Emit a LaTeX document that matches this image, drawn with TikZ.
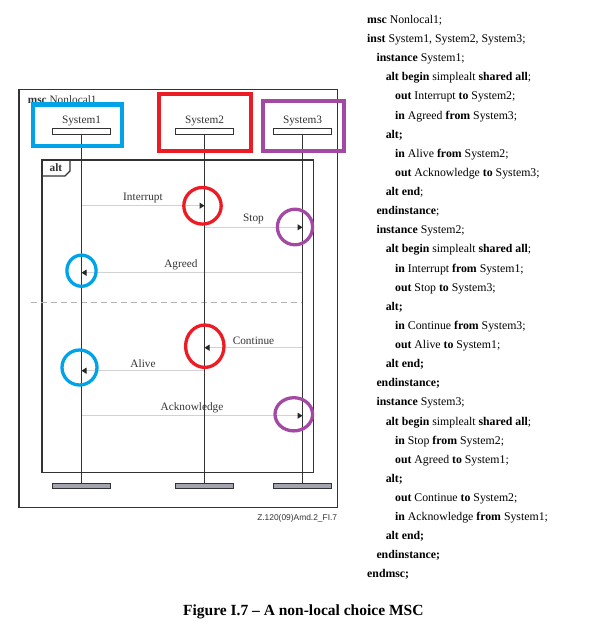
\documentclass[tikz,border=0pt]{standalone}
\usepackage{fontspec}
\setmainfont{Liberation Serif}
\newfontfamily\notefont{Liberation Sans}
\usetikzlibrary{arrows.meta,positioning}

\definecolor{hlblue}{HTML}{00A2E8}
\definecolor{hlred}{HTML}{ED1C24}
\definecolor{hlpurple}{HTML}{A349A4}
\definecolor{msggray}{HTML}{D2D2D2}
\definecolor{ink}{HTML}{333333}
\definecolor{footgray}{HTML}{A2A5B0}

\tikzset{
	head/.style={draw=ink,fill=white,line width=1pt,minimum width=58.6pt,minimum height=5.3pt,inner sep=0pt},
	foot/.style={head,fill=footgray},
	insttext/.style={font=\fontsize{11.3}{13}\selectfont,text=ink,inner sep=0pt},
	life/.style={draw=ink,line width=1.1pt},
	frame/.style={draw=ink,line width=1.1pt},
	msg/.style={draw=msggray,line width=1pt,-{Triangle[length=5pt,width=6pt,color=black!85]}},
	lbl/.style={font=\fontsize{11.3}{13}\selectfont,text=ink,inner sep=1pt,above=1.7pt},
	hlbox/.style={line width=4.2pt},
	ring/.style={line width=3.3pt},
	codeline/.style={anchor=base west,inner sep=0pt,font=\fontsize{11.8}{14}\selectfont}
}

\begin{document}
\begin{tikzpicture}[x=1pt,y=-1pt]
	\useasboundingbox (0,0) rectangle (611,644);

	\draw[frame] (19,89.3) rectangle (337.3,507.3);
	\node[insttext,anchor=base west] (mscname) at (27.7,103.5) {\textbf{msc} Nonlocal1};

	% instance heads and ends
	\node[head] (h1) at (81.5,131.6) {};
	\node[head] (h2) at (204.5,131.6) {};
	\node[head] (h3) at (302.5,131.6) {};
	\node[insttext,above=2.3pt of h1] (n1) {System1};
	\node[insttext,above=2.3pt of h2] (n2) {System2};
	\node[insttext,above=2.3pt of h3] (n3) {System3};
	\node[foot] (e1) at (81.5,486) {};
	\node[foot] (e2) at (204.5,486) {};
	\node[foot] (e3) at (302.5,486) {};

	% alt frame
	\draw[frame] (42,160) rectangle (313.3,472.3);
	\draw[frame] (42,176) -- (65,176) -- (70,171) -- (70,160);
	\node[insttext,anchor=base west] (alt) at (49.5,171.5) {\textbf{alt}};
	\draw[draw=black!30,line width=1pt,dash pattern=on 6pt off 4pt] (30.7,302.7) -- (301.7,302.7);

	% messages
	\coordinate (yInt) at (0,205.7);
	\coordinate (yStop) at (0,227.3);
	\coordinate (yAgr) at (0,272.7);
	\coordinate (yCont) at (0,347.7);
	\coordinate (yAlive) at (0,370.7);
	\coordinate (yAck) at (0,415.7);
	\draw[msg] (h1 |- yInt) -- node[lbl] {Interrupt} (h2 |- yInt);
	\draw[msg] (h2 |- yStop) -- node[lbl] {Stop} (h3 |- yStop);
	\draw[msg] (h3 |- yAgr) -- node[lbl,pos=0.55] {Agreed} (h1 |- yAgr);
	\draw[msg] (h3 |- yCont) -- node[lbl] {Continue} (h2 |- yCont);
	\draw[msg] (h2 |- yAlive) -- node[lbl] {Alive} (h1 |- yAlive);
	\draw[msg] (h1 |- yAck) -- node[lbl] {Acknowledge} (h3 |- yAck);

	\draw[life] (h1) -- (e1);
	\draw[life] (h2) -- (e2);
	\draw[life] (h3) -- (e3);

	\node[font=\notefont\fontsize{8.4}{9}\selectfont,text=ink,anchor=base east,inner sep=0pt] (ref) at (337.3,520) {Z.120(09)Amd.2\_FI.7};

	% highlights
	\draw[hlbox,hlblue] (32.9,104.5) rectangle (122.1,146.1);
	\draw[hlbox,hlred] (158.7,94.3) rectangle (251.3,150.7);
	\draw[hlbox,hlpurple] (263,101) rectangle (343.7,151.3);
	\draw[ring,hlred] (202.5,205.8) ellipse [x radius=18.7pt,y radius=18.3pt];
	\draw[ring,hlpurple] (295,227) ellipse [x radius=17.6pt,y radius=17.8pt];
	\draw[ring,hlblue] (81.5,270.7) ellipse [x radius=14.6pt,y radius=15.6pt];
	\draw[ring,hlred] (204.8,346.2) ellipse [x radius=19.2pt,y radius=21.2pt];
	\draw[ring,hlblue] (79.5,367.5) ellipse [x radius=17.5pt,y radius=17.5pt];
	\draw[ring,hlpurple] (293.8,414.3) ellipse [x radius=18.8pt,y radius=16.6pt];

	% textual form
	\foreach \lvl/\txt [count=\n from 0] in {
		0/{\textbf{msc} Nonlocal1;},
		0/{\textbf{inst} System1, System2, System3;},
		1/{\textbf{instance} System1;},
		2/{\textbf{alt begin} simplealt \textbf{shared all};},
		3/{\textbf{out} Interrupt \textbf{to} System2;},
		3/{\textbf{in} Agreed \textbf{from} System3;},
		2/{\textbf{alt;}},
		3/{\textbf{in} Alive \textbf{from} System2;},
		3/{\textbf{out} Acknowledge \textbf{to} System3;},
		2/{\textbf{alt end};},
		1/{\textbf{endinstance};},
		1/{\textbf{instance} System2;},
		2/{\textbf{alt begin} simplealt \textbf{shared all};},
		3/{\textbf{in} Interrupt \textbf{from} System1;},
		3/{\textbf{out} Stop \textbf{to} System3;},
		2/{\textbf{alt;}},
		3/{\textbf{in} Continue \textbf{from} System3;},
		3/{\textbf{out} Alive \textbf{to} System1;},
		2/{\textbf{alt end;}},
		1/{\textbf{endinstance;}},
		1/{\textbf{instance} System3;},
		2/{\textbf{alt begin} simplealt \textbf{shared all};},
		3/{\textbf{in} Stop \textbf{from} System2;},
		3/{\textbf{out} Agreed \textbf{to} System1;},
		2/{\textbf{alt;}},
		3/{\textbf{out} Continue \textbf{to} System2;},
		3/{\textbf{in} Acknowledge \textbf{from} System1;},
		2/{\textbf{alt end;}},
		1/{\textbf{endinstance;}},
		0/{\textbf{endmsc;}}}
		\node[codeline] (line\n) at (367+9.3*\lvl,23.5+19.12*\n) {\txt};

	\node[font=\fontsize{15.5}{18}\selectfont\bfseries,anchor=base,inner sep=0pt] (caption) at (303.3,615.7) {Figure I.7 – A non-local choice MSC};
\end{tikzpicture}
\end{document}
